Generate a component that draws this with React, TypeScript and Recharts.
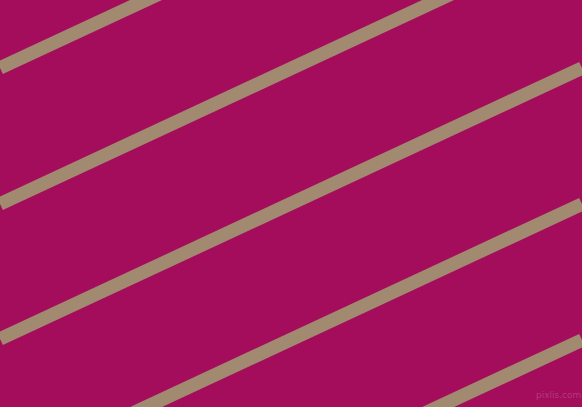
import { LineChart, Line, XAxis, YAxis } from 'recharts'

const W = 582
const H = 407

// stripe centre height where each stripe meets the left edge (x = 0) and right edge (x = 582)
const stripeLeftY = [68, 204, 339, 475, 611]
const stripeRightY = [-203, -67, 68, 204, 340]
const edgeX = [0, 582]

const BG = '#A30D5C'
const STRIPE = '#A18A6F'

const stripes = stripeLeftY.map((y0, i) => [
  { x: edgeX[0], y: y0 },
  { x: edgeX[1], y: stripeRightY[i] },
])

export default function App() {
  return (
    <div style={{ position: 'fixed', left: 0, top: 0, width: W, height: H, background: BG }}>
      <LineChart width={W} height={H} margin={{ top: 0, right: 0, bottom: 0, left: 0 }}>
        <XAxis type="number" dataKey="x" domain={[0, W]} hide allowDataOverflow />
        <YAxis type="number" dataKey="y" domain={[0, H]} reversed hide allowDataOverflow />
        {stripes.map((d, i) => (
          <Line
            key={i}
            data={d}
            dataKey="y"
            stroke={STRIPE}
            strokeWidth={13.5}
            dot={false}
            activeDot={false}
            isAnimationActive={false}
          />
        ))}
      </LineChart>
      <div
        style={{
          position: 'absolute',
          left: 536,
          top: 390,
          fontFamily: 'Verdana, "DejaVu Sans", sans-serif',
          fontSize: 9,
          color: '#B4468A',
          opacity: 0.8,
        }}
      >
        pixlis.com
      </div>
    </div>
  )
}
